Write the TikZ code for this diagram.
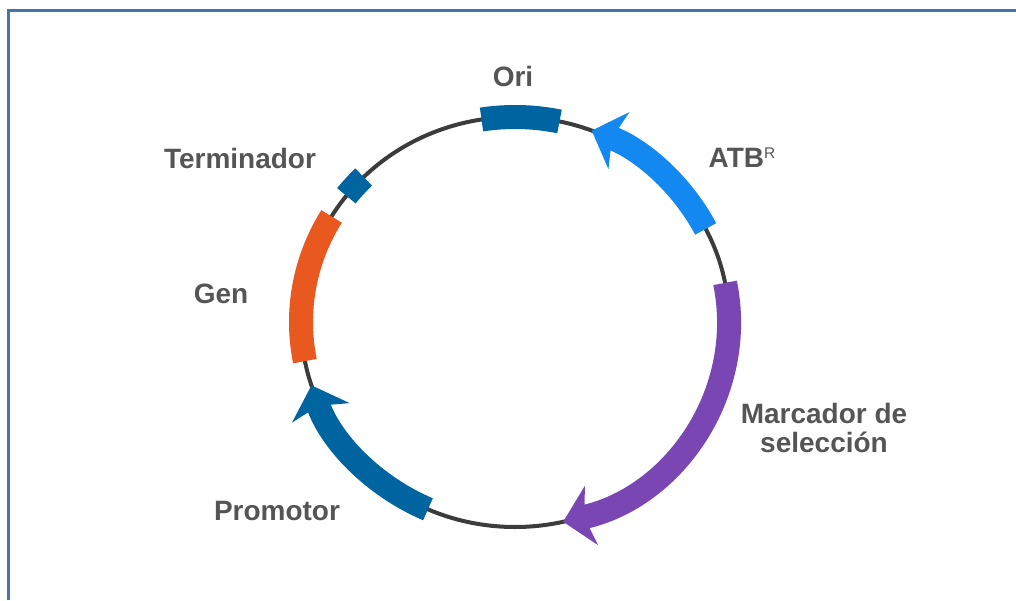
\documentclass[tikz,border=0pt]{standalone}
\usepackage{fontspec}
\setmainfont{Liberation Sans}
\usetikzlibrary{arrows.meta}
\definecolor{framecol}{RGB}{70,116,168}
\definecolor{ringcol}{RGB}{60,60,60}
\definecolor{oricol}{RGB}{0,100,160}
\definecolor{atbcol}{RGB}{18,136,240}
\definecolor{marcol}{RGB}{122,70,180}
\definecolor{gencol}{RGB}{233,88,30}
\definecolor{labcol}{RGB}{85,85,85}
\newcommand{\supR}{\raisebox{6.4pt}{\mdseries\fontsize{11}{11}\selectfont R}}

\begin{document}
\begin{tikzpicture}[x=0.025cm,y=0.025cm,
   seg/.style={line width=0.6cm,x radius=214,y radius=205},
   arr/.style={seg,-{Stealth[length=0.72cm,width=1.5cm,inset=0.18cm]}},
   lab/.style={text=labcol,font=\bfseries\fontsize{19.9}{21.3}\selectfont,
               inner sep=0pt,align=center}]
  \useasboundingbox (0,0) rectangle (1016,600);
  \draw[framecol,line width=0.075cm] (8.5,0) -- (8.5,589.5) -- (1016,589.5);

  \coordinate (c) at (515,278);
  % backbone
  \draw[ringcol,line width=0.1cm] (c) ellipse [x radius=214,y radius=205];

  % features
  \draw[seg,oricol] (c) ++(78:214 and 205) arc[start angle=78,end angle=99];
  \draw[seg,oricol] (c) ++(135:214 and 205) arc[start angle=135,end angle=142];
  \draw[seg,gencol] (c) ++(149:214 and 205) arc[start angle=149,end angle=191];
  \draw[arr,atbcol] (c) ++(27:214 and 205) arc[start angle=27,end angle=69];
  \draw[arr,marcol] (c) ++(11:214 and 205) arc[start angle=11,end angle=-77];
  \draw[arr,oricol] (c) ++(-114:214 and 205) arc[start angle=-114,end angle=-162];

  % labels
  \node[lab] (ori)  at (513,523) {Ori};
  \node[lab] (atb)  at (742,442) {ATB\supR};
  \node[lab] (term) at (240,442) {Terminador};
  \node[lab] (gen)  at (221,306) {Gen};
  \node[lab] (prom) at (277,89)  {Promotor};
  \node[lab] (mark) at (824,172) {Marcador de\\selección};
\end{tikzpicture}
\end{document}
